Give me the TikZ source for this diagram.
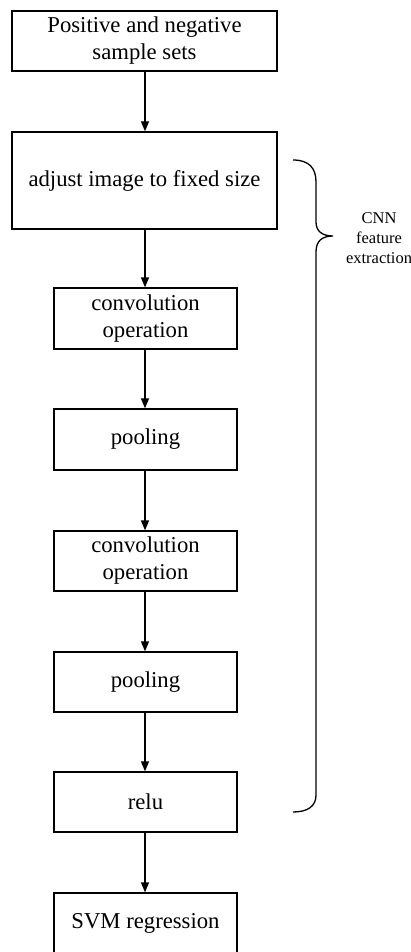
\documentclass[tikz,border=0pt]{standalone}
\usepackage{fontspec}
\setmainfont{Liberation Serif}
\usetikzlibrary{arrows.meta}
\begin{document}
\begin{tikzpicture}[x=1pt,y=-1pt,
  box/.style={draw, line width=1.3pt, inner sep=0pt, align=center,
    font=\fontsize{22.7}{27}\selectfont},
  flow/.style={line width=1.3pt, -{Triangle[width=8pt,length=10pt]}},
  brace/.style={line width=1.3pt}]
\clip (0,0) rectangle (411,952);
\fill[white] (0,0) rectangle (411,952);
\node[box, minimum width=265, minimum height=60] (b1) at (144.5,41) {Positive and negative\\sample sets};
\node[box, minimum width=265, minimum height=97] (b2) at (144.5,180.5) {adjust image to fixed size};
\node[box, minimum width=183, minimum height=61] (b3) at (145.5,318.5) {convolution\\operation};
\node[box, minimum width=183, minimum height=61] (b4) at (145.5,439.5) {pooling};
\node[box, minimum width=183, minimum height=60] (b5) at (145.5,561) {convolution\\operation};
\node[box, minimum width=183, minimum height=60] (b6) at (145.5,682) {pooling};
\node[box, minimum width=183, minimum height=60] (b7) at (145.5,802) {relu};
\node[box, minimum width=183, minimum height=60] (b8) at (145.5,923) {SVM regression};
\draw[flow] (b1.south -| 145,0) -- (b2.north -| 145,0);
\draw[flow] (b2.south -| 145,0) -- (b3.north -| 145,0);
\draw[flow] (b3.south -| 145,0) -- (b4.north -| 145,0);
\draw[flow] (b4.south -| 145,0) -- (b5.north -| 145,0);
\draw[flow] (b5.south -| 145,0) -- (b6.north -| 145,0);
\draw[flow] (b6.south -| 145,0) -- (b7.north -| 145,0);
\draw[flow] (b7.south -| 145,0) -- (b8.north -| 145,0);
\draw[brace] (293,160) .. controls (309,160) and (316,168) .. (316,182)
  -- (316,222) .. controls (316,231) and (322,236) .. (333,236)
  .. controls (322,236) and (316,241) .. (316,252)
  -- (316,795) .. controls (316,806) and (308,812) .. (293,812);
\node[align=center, inner sep=0pt, font=\fontsize{16.5}{20}\selectfont] (lab) at (379,238) {CNN\\feature\\extraction};
\end{tikzpicture}
\end{document}
